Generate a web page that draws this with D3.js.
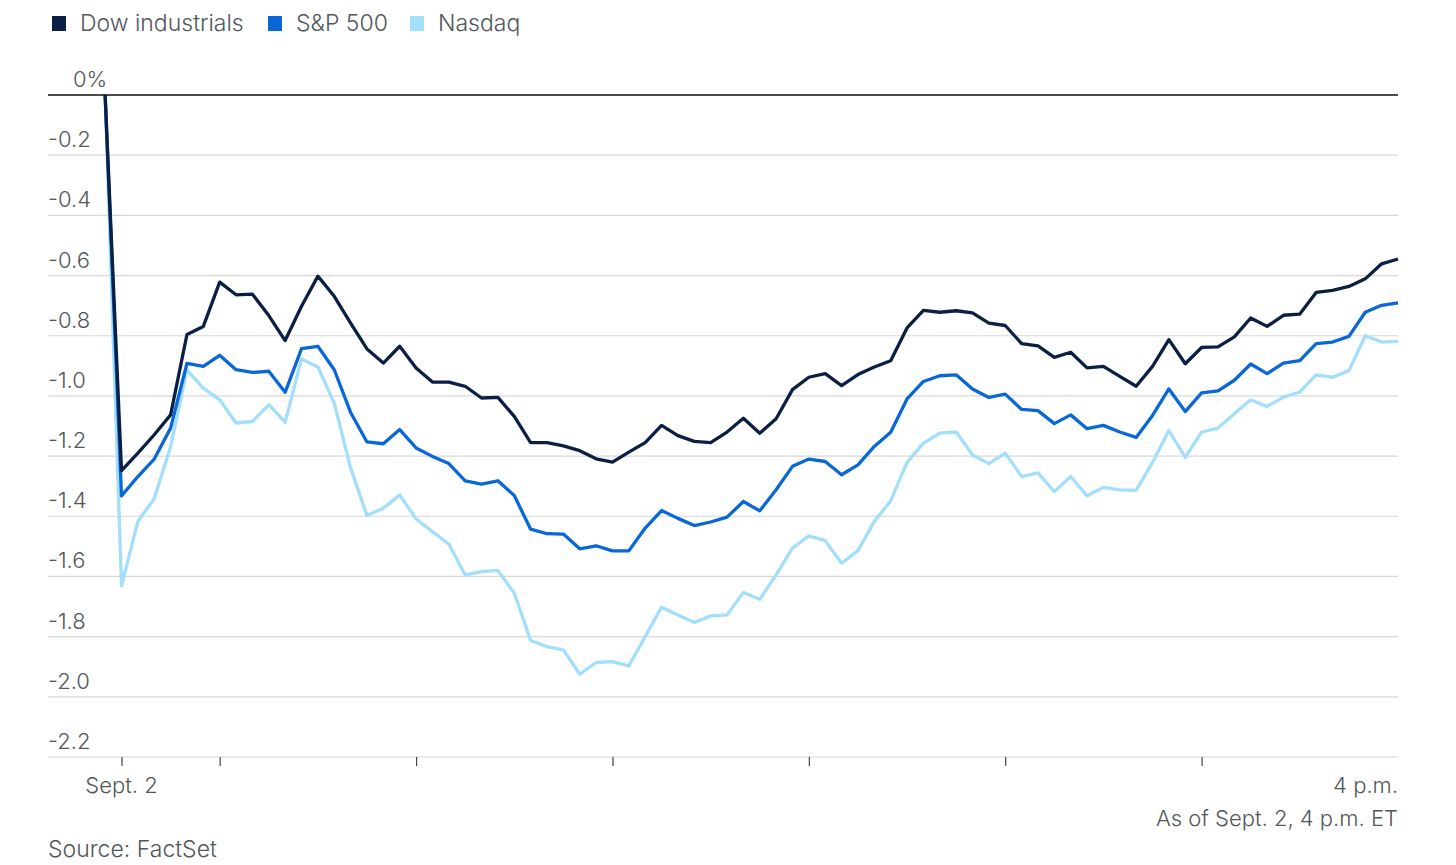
<!DOCTYPE html>
<html>
<head>
<meta charset="utf-8">
<script src="https://cdn.jsdelivr.net/npm/d3@7"></script>
<style>
  html, body { margin: 0; padding: 0; background: #fff; }
  svg { display: block; }
  text { font-family: Inter, Roboto, "Noto Sans", sans-serif; font-weight: 300; }
</style>
</head>
<body>
<svg id="chart" width="1456" height="865"></svg>
<script>
// ---- Data (percent change, 5-minute intervals; first point = previous close) ----
const seriesNames = ["Dow industrials", "S&P 500", "Nasdaq"];
const seriesColors = ["#0b1f45", "#0a67d8", "#a3defa"];

const dow = [0, -1.248, -1.19, -1.129, -1.063, -0.796, -0.769, -0.622, -0.664, -0.662, -0.733, -0.816, -0.702, -0.602,
  -0.669, -0.758, -0.844, -0.891, -0.835, -0.907, -0.954, -0.954, -0.968, -1.007, -1.005, -1.068, -1.155, -1.155, -1.166,
  -1.182, -1.209, -1.220, -1.187, -1.155, -1.098, -1.132, -1.151, -1.155, -1.120, -1.074, -1.124, -1.076, -0.979, -0.938,
  -0.926, -0.966, -0.929, -0.904, -0.883, -0.774, -0.716, -0.722, -0.717, -0.724, -0.758, -0.766, -0.826, -0.834, -0.872,
  -0.855, -0.907, -0.902, -0.935, -0.968, -0.902, -0.813, -0.893, -0.839, -0.837, -0.804, -0.741, -0.769, -0.732, -0.728,
  -0.656, -0.649, -0.636, -0.611, -0.561, -0.545];

const sp500 = [0, -1.332, -1.268, -1.21, -1.107, -0.892, -0.902, -0.865, -0.913, -0.922, -0.918, -0.988, -0.843, -0.835,
  -0.913, -1.055, -1.153, -1.159, -1.112, -1.173, -1.201, -1.225, -1.282, -1.293, -1.282, -1.331, -1.443, -1.458, -1.459,
  -1.508, -1.498, -1.515, -1.515, -1.439, -1.381, -1.407, -1.431, -1.419, -1.403, -1.351, -1.382, -1.312, -1.234, -1.210,
  -1.218, -1.262, -1.229, -1.168, -1.121, -1.010, -0.952, -0.933, -0.930, -0.977, -1.005, -0.994, -1.045, -1.049, -1.092,
  -1.063, -1.109, -1.098, -1.120, -1.138, -1.065, -0.977, -1.052, -0.990, -0.983, -0.948, -0.894, -0.926, -0.891, -0.883,
  -0.826, -0.821, -0.802, -0.722, -0.699, -0.691];

const nasdaq = [0, -1.631, -1.417, -1.342, -1.168, -0.914, -0.974, -1.013, -1.090, -1.085, -1.029, -1.088, -0.877, -0.904,
  -1.024, -1.240, -1.397, -1.373, -1.329, -1.409, -1.451, -1.492, -1.595, -1.584, -1.580, -1.655, -1.813, -1.833, -1.844,
  -1.925, -1.886, -1.883, -1.897, -1.800, -1.702, -1.728, -1.753, -1.731, -1.728, -1.653, -1.676, -1.595, -1.506, -1.465,
  -1.481, -1.556, -1.514, -1.417, -1.349, -1.221, -1.157, -1.124, -1.120, -1.196, -1.225, -1.190, -1.268, -1.256, -1.318,
  -1.268, -1.332, -1.304, -1.312, -1.314, -1.221, -1.115, -1.204, -1.120, -1.107, -1.059, -1.013, -1.035, -1.004, -0.987,
  -0.930, -0.938, -0.916, -0.800, -0.821, -0.819];

const yTickValues = [0, -0.2, -0.4, -0.6, -0.8, -1.0, -1.2, -1.4, -1.6, -1.8, -2.0, -2.2];
const yTickLabels = ["0%", "-0.2", "-0.4", "-0.6", "-0.8", "-1.0", "-1.2", "-1.4", "-1.6", "-1.8", "-2.0", "-2.2"];
const xTickHours = [9.5, 10, 11, 12, 13, 14, 15];
const xLabelHours = [9.5, 16];
const xLabels = ["Sept. 2", "4 p.m."];
const startHour = 9 + 25 / 60;   // previous-close anchor (9:25)
const stepMinutes = 5;

// ---- Layout ----
const svg = d3.select("#chart");
const left = 48, right = 1398;
const toDate = h => new Date(2025, 8, 2, Math.floor(h), Math.round((h % 1) * 60));
const times = dow.map((_, i) => new Date(toDate(startHour).getTime() + i * stepMinutes * 60000));

const x = d3.scaleTime().domain([toDate(9.5), toDate(16)]).range([121.5, 1398]);
const y = d3.scaleLinear().domain([0, -2.2]).range([95, 757]);

const textColor = "#52575c";
const fs = 22;

// Gridlines + y labels
yTickValues.forEach((v, i) => {
  if (v !== 0) {
    svg.append("line")
      .attr("x1", left).attr("x2", right)
      .attr("y1", y(v)).attr("y2", y(v))
      .attr("stroke", "#d8d8d8").attr("stroke-width", 1.2);
  }
  svg.append("text")
    .attr("x", v === 0 ? 73 : left)
    .attr("y", y(v) - 8)
    .attr("font-size", fs)
    .attr("fill", textColor)
    .text(yTickLabels[i]);
});

// X axis ticks
const xAxis = d3.axisBottom(x)
  .tickValues(xTickHours.map(toDate))
  .tickSize(9)
  .tickFormat("");
const gx = svg.append("g").attr("transform", `translate(0,${y(-2.2)})`).call(xAxis);
gx.select(".domain").remove();
gx.selectAll(".tick line").attr("stroke", "#444").attr("stroke-width", 1.2);

// X labels
xLabelHours.forEach((h, i) => {
  svg.append("text")
    .attr("x", x(toDate(h)))
    .attr("y", 793)
    .attr("text-anchor", i === 0 ? "middle" : "end")
    .attr("font-size", fs)
    .attr("fill", textColor)
    .text(xLabels[i]);
});

// Lines
const line = d3.line()
  .x((d, i) => x(times[i]))
  .y(d => y(d));

const allSeries = [dow, sp500, nasdaq];
[2, 1, 0].forEach(k => {
  svg.append("path")
    .datum(allSeries[k])
    .attr("fill", "none")
    .attr("stroke", seriesColors[k])
    .attr("stroke-width", 3.3)
    .attr("stroke-linejoin", "round")
    .attr("d", line);
});

// Zero line (on top)
svg.append("line")
  .attr("x1", left).attr("x2", right)
  .attr("y1", y(0)).attr("y2", y(0))
  .attr("stroke", "#111").attr("stroke-width", 1.6);

// Legend
const legendX = [52, 268, 410];
seriesNames.forEach((name, i) => {
  svg.append("rect")
    .attr("x", legendX[i]).attr("y", 16)
    .attr("width", 14).attr("height", 15)
    .attr("fill", seriesColors[i]);
  svg.append("text")
    .attr("x", legendX[i] + 28).attr("y", 31)
    .attr("font-size", 23)
    .attr("fill", textColor)
    .text(name);
});

// Notes
svg.append("text")
  .attr("x", right).attr("y", 826)
  .attr("text-anchor", "end")
  .attr("font-size", fs)
  .attr("fill", textColor)
  .text("As of Sept. 2, 4 p.m. ET");

svg.append("text")
  .attr("x", left).attr("y", 857)
  .attr("font-size", 23)
  .attr("fill", textColor)
  .text("Source: FactSet");
</script>
</body>
</html>
